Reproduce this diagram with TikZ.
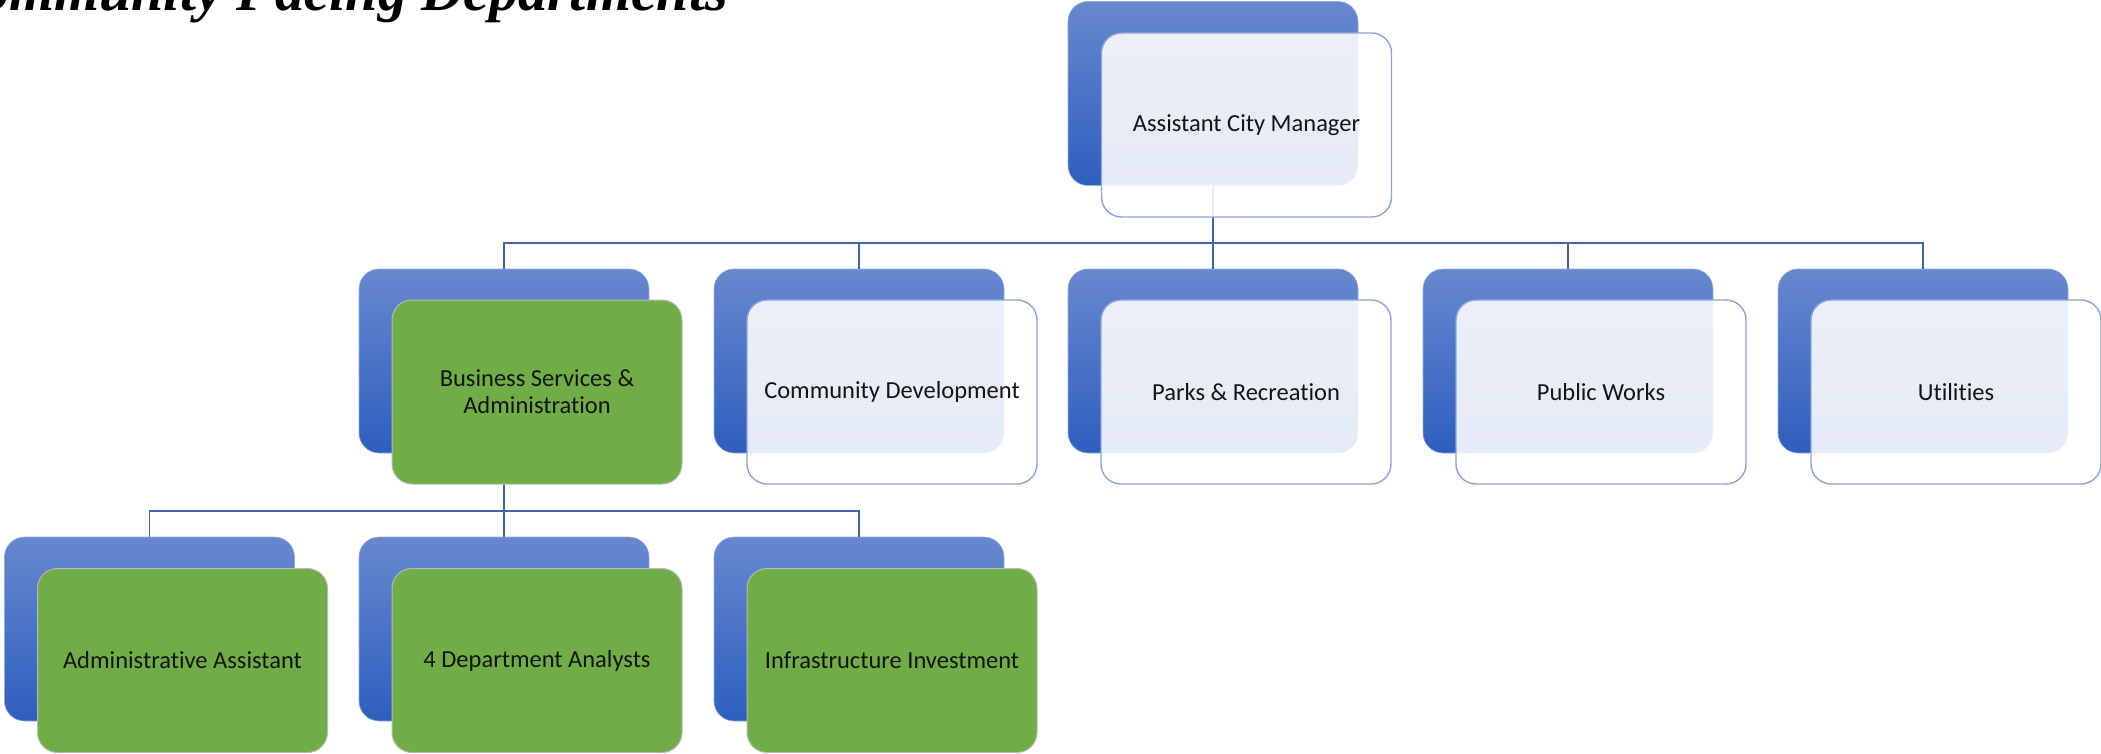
\documentclass[tikz,border=0pt]{standalone}
\usepackage{fontspec}
\setmainfont{Carlito}[Ligatures=NoCommon]
\newfontfamily\titlefont{Liberation Serif}
\definecolor{backtop}{RGB}{103,136,206}
\definecolor{backbot}{RGB}{46,94,190}
\definecolor{linec}{RGB}{68,100,165}
\definecolor{frontdraw}{RGB}{140,164,214}
\definecolor{greenfill}{RGB}{112,173,71}
\definecolor{txt}{RGB}{20,20,20}
\begin{document}
\begin{tikzpicture}[x=1pt,y=-1pt,
  backbox/.style={rounded corners=20pt, minimum width=290pt, minimum height=184pt,
    top color=backtop, bottom color=backbot, draw=backtop!70!white, line width=0.6pt, inner sep=0pt},
  frontbox/.style={rounded corners=20pt, minimum width=290pt, minimum height=184pt,
    fill=white, fill opacity=0.88, text opacity=1, draw=frontdraw, line width=1.4pt,
    text=txt, font=\fontsize{24.5}{27}\selectfont, align=center, inner sep=0pt},
  greenbox/.style={frontbox, fill=greenfill, fill opacity=1, draw=gray!55, line width=1pt},
  conn/.style={draw=linec, line width=1.5pt}
]
\useasboundingbox (0,0) rectangle (2101,754);
\begin{scope}
\clip (0,0) rectangle (2101,754);
\node[anchor=base east, inner sep=0pt, font=\titlefont\bfseries\itshape\fontsize{58}{60}\selectfont] (title) at (728,11) {Community Facing Departments};
\end{scope}

% back boxes
\node[backbox] (b-acm) at (1213,93.5) {};
\node[backbox] (b-bsa) at (504,361) {};
\node[backbox] (b-cd)  at (859,361) {};
\node[backbox] (b-pr)  at (1213,361) {};
\node[backbox] (b-pw)  at (1568,361) {};
\node[backbox] (b-ut)  at (1923,361) {};
\node[backbox] (b-aa)  at (149.5,629) {};
\node[backbox] (b-da)  at (504,629) {};
\node[backbox] (b-ii)  at (859,629) {};

% connectors
\coordinate (j1) at (1213,243);
\coordinate (j2) at (504,511);
\draw[conn] (b-acm.south) -- (j1);
\foreach \n in {bsa,cd,pr,pw,ut} \draw[conn] (j1) -| (b-\n.north);
\draw[conn] (b-bsa.south) -- (j2);
\foreach \n in {aa,da,ii} \draw[conn] (j2) -| (b-\n.north);

% front boxes
\node[frontbox] (acm) at (1246.5,125) {Assistant City Manager};
\node[greenbox] (bsa) at (537,392) {Business Services \&\\Administration};
\node[frontbox] (cd)  at (892,392) {Community Development};
\node[frontbox] (pr)  at (1246,392) {Parks \& Recreation};
\node[frontbox] (pw)  at (1601,392) {Public Works};
\node[frontbox] (ut)  at (1956,392) {Utilities};
\node[greenbox] (aa)  at (182.5,660.5) {Administrative Assistant};
\node[greenbox] (da)  at (537,660.5) {4 Department Analysts};
\node[greenbox] (ii)  at (892,660.5) {Infrastructure Investment};
\end{tikzpicture}
\end{document}
